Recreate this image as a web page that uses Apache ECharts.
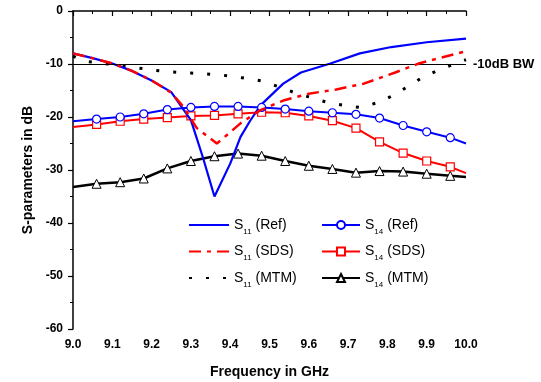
<!DOCTYPE html>
<html>
<head>
<meta charset="utf-8">
<script src="https://cdn.jsdelivr.net/npm/echarts@6/dist/echarts.min.js"></script>
<style>
  html, body { margin: 0; padding: 0; background: #fff; }
  #chart { width: 541px; height: 382px; }
</style>
</head>
<body>
<div id="chart"></div>
<script>
var chartDom = document.getElementById('chart');
var chart = echarts.init(chartDom);

// S11 curves
var s11RefFreq = [9.00, 9.05, 9.10, 9.15, 9.20, 9.25, 9.30, 9.33, 9.36, 9.40, 9.426, 9.45, 9.477, 9.535, 9.58, 9.655, 9.73, 9.81, 9.90, 10.00];
var s11RefVal  = [-8.0, -8.9, -9.9, -11.3, -13.1, -15.3, -20.6, -27.5, -35.0, -28.8, -23.8, -20.8, -17.8, -13.7, -11.6, -9.9, -8.0, -6.8, -5.9, -5.2];

var s11SdsFreq = [9.00, 9.05, 9.10, 9.15, 9.20, 9.25, 9.28, 9.315, 9.366, 9.39, 9.426, 9.477, 9.535, 9.60, 9.67, 9.74, 9.82, 9.88, 10.00];
var s11SdsVal  = [-8.0, -8.9, -9.9, -11.3, -13.1, -15.4, -18.0, -22.1, -25.0, -23.5, -21.2, -18.7, -16.9, -15.6, -14.8, -13.7, -11.6, -9.9, -7.6];

var s11MtmFreq = [9.00, 9.03, 9.07, 9.16, 9.21, 9.25, 9.30, 9.34, 9.38, 9.43, 9.48, 9.52, 9.56, 9.60, 9.645, 9.69, 9.73, 9.78, 9.815, 9.853, 9.89, 9.935, 9.977, 10.00];
var s11MtmVal  = [-8.5, -9.5, -9.8, -10.7, -11.2, -11.5, -11.7, -11.9, -12.1, -12.6, -13.2, -14.2, -15.3, -16.2, -17.2, -17.8, -18.2, -17.2, -15.9, -14.2, -12.5, -11.0, -9.8, -9.2];

// S14 curves (shared frequency grid, markers on interior points)
var s14Freq   = [9.00, 9.06, 9.12, 9.18, 9.24, 9.30, 9.36, 9.42, 9.48, 9.54, 9.60, 9.66, 9.72, 9.78, 9.84, 9.90, 9.96, 10.00];
var s14RefVal = [-20.8, -20.4, -20.0, -19.4, -18.6, -18.2, -18.0, -18.0, -18.2, -18.5, -18.9, -19.2, -19.5, -20.2, -21.6, -22.8, -23.9, -25.0];
var s14SdsVal = [-21.9, -21.4, -20.8, -20.4, -20.1, -19.8, -19.7, -19.4, -19.1, -19.2, -19.8, -20.7, -22.1, -24.7, -26.8, -28.3, -29.4, -30.6];
var s14MtmVal = [-33.2, -32.6, -32.3, -31.6, -29.7, -28.3, -27.4, -26.9, -27.3, -28.3, -29.2, -29.8, -30.5, -30.2, -30.3, -30.7, -31.1, -31.3];

var bwLevel = -10;

function pairs(f, v) {
  return f.map(function (x, i) { return [x, v[i]]; });
}
// no marker on the two end points
function markedPairs(f, v) {
  return f.map(function (x, i) {
    var item = { value: [x, v[i]] };
    if (i === 0 || i === f.length - 1) item.symbol = 'none';
    return item;
  });
}

var legendRich = {
  m: { fontSize: 14, color: '#000', fontFamily: 'Liberation Sans', lineHeight: 16 },
  sub: { fontSize: 8, color: '#000', fontFamily: 'Liberation Sans', verticalAlign: 'bottom', lineHeight: 21 }
};
function legendFmt(name) {
  return name.replace(/^S(\d+)(.*)$/, '{m|S}{sub|$1}{m|$2}');
}
var noMark = { opacity: 0 };

var option = {
  animation: false,
  grid: { left: 73, right: 75, top: 11, bottom: 53, outerBoundsMode: 'none' },
  legend: [{
    orient: 'vertical',
    left: 183, top: 213,
    itemWidth: 40, itemHeight: 10, itemGap: 9,
    data: [
      { name: 'S11 (Ref)', itemStyle: noMark },
      { name: 'S11 (SDS)', itemStyle: noMark },
      { name: 'S11 (MTM)', itemStyle: noMark }
    ],
    formatter: legendFmt,
    textStyle: { rich: legendRich }
  }, {
    orient: 'vertical',
    left: 316, top: 213,
    itemWidth: 38, itemHeight: 10, itemGap: 9,
    data: ['S14 (Ref)', 'S14 (SDS)', 'S14 (MTM)'],
    formatter: legendFmt,
    textStyle: { rich: legendRich }
  }],
  xAxis: {
    type: 'value',
    min: 9, max: 10, interval: 0.1,
    name: 'Frequency in GHz',
    nameLocation: 'middle',
    nameGap: 36,
    nameTextStyle: { fontSize: 14, fontWeight: 'bold', color: '#000', fontFamily: 'Liberation Sans' },
    axisLine: { lineStyle: { color: '#000', width: 1.5 } },
    axisTick: { inside: false, length: 5, lineStyle: { color: '#000', width: 1.2 } },
    minorTick: { show: true, splitNumber: 2, length: 3, lineStyle: { color: '#000' } },
    splitLine: { show: false },
    axisLabel: {
      color: '#000', fontSize: 12, fontWeight: 'bold', fontFamily: 'Liberation Sans', margin: 10,
      formatter: function (v) { return v.toFixed(1); }
    }
  },
  yAxis: {
    type: 'value',
    min: -60, max: 0, interval: 10,
    name: 'S-parameters in dB',
    nameLocation: 'middle',
    nameGap: 34,
    nameTextStyle: { fontSize: 14, fontWeight: 'bold', color: '#000', fontFamily: 'Liberation Sans' },
    axisLine: { show: true, lineStyle: { color: '#000', width: 1.5 } },
    axisTick: { show: true, inside: false, length: 5, lineStyle: { color: '#000', width: 1.2 } },
    minorTick: { show: true, splitNumber: 2, length: 3, lineStyle: { color: '#000' } },
    splitLine: { show: false },
    axisLabel: { color: '#000', fontSize: 12, fontWeight: 'bold', fontFamily: 'Liberation Sans', margin: 10 }
  },
  series: [{
    name: 'S14 (MTM)',
    type: 'line',
    data: markedPairs(s14Freq, s14MtmVal),
    symbol: 'triangle', symbolSize: 9,
    lineStyle: { color: '#000', width: 2.5 },
    itemStyle: { color: '#fff', borderColor: '#000', borderWidth: 1 },
    z: 2,
    markLine: {
      silent: true,
      symbol: 'none',
      data: [{ yAxis: bwLevel }],
      lineStyle: { color: '#000', width: 1.2, type: 'solid' },
      label: {
        position: 'end', formatter: '-10dB BW', color: '#000',
        fontSize: 13, fontWeight: 'bold', fontFamily: 'Liberation Sans', distance: 7
      }
    }
  }, {
    name: 'S11 (MTM)',
    type: 'line',
    data: pairs(s11MtmFreq, s11MtmVal),
    showSymbol: false, symbol: 'none',
    lineStyle: { color: '#000', width: 3, type: [3, 14] },
    itemStyle: { color: '#000' },
    z: 3
  }, {
    name: 'S14 (SDS)',
    type: 'line',
    data: markedPairs(s14Freq, s14SdsVal),
    symbol: 'rect', symbolSize: 8,
    lineStyle: { color: '#ff0000', width: 2 },
    itemStyle: { color: '#fff', borderColor: '#ff0000', borderWidth: 1.2 },
    z: 3
  }, {
    name: 'S14 (Ref)',
    type: 'line',
    data: markedPairs(s14Freq, s14RefVal),
    symbol: 'circle', symbolSize: 8,
    lineStyle: { color: '#0000ff', width: 2 },
    itemStyle: { color: '#fff', borderColor: '#0000ff', borderWidth: 1.2 },
    z: 4
  }, {
    name: 'S11 (SDS)',
    type: 'line',
    data: pairs(s11SdsFreq, s11SdsVal),
    showSymbol: false, symbol: 'none',
    lineStyle: { color: '#ff0000', width: 2.5, type: [12, 6, 4, 6] },
    itemStyle: { color: '#ff0000' },
    z: 5
  }, {
    name: 'S11 (Ref)',
    type: 'line',
    data: pairs(s11RefFreq, s11RefVal),
    showSymbol: false, symbol: 'none',
    lineStyle: { color: '#0000ff', width: 2.2 },
    itemStyle: { color: '#0000ff' },
    z: 4
  }]
};

chart.setOption(option);
</script>
</body>
</html>
